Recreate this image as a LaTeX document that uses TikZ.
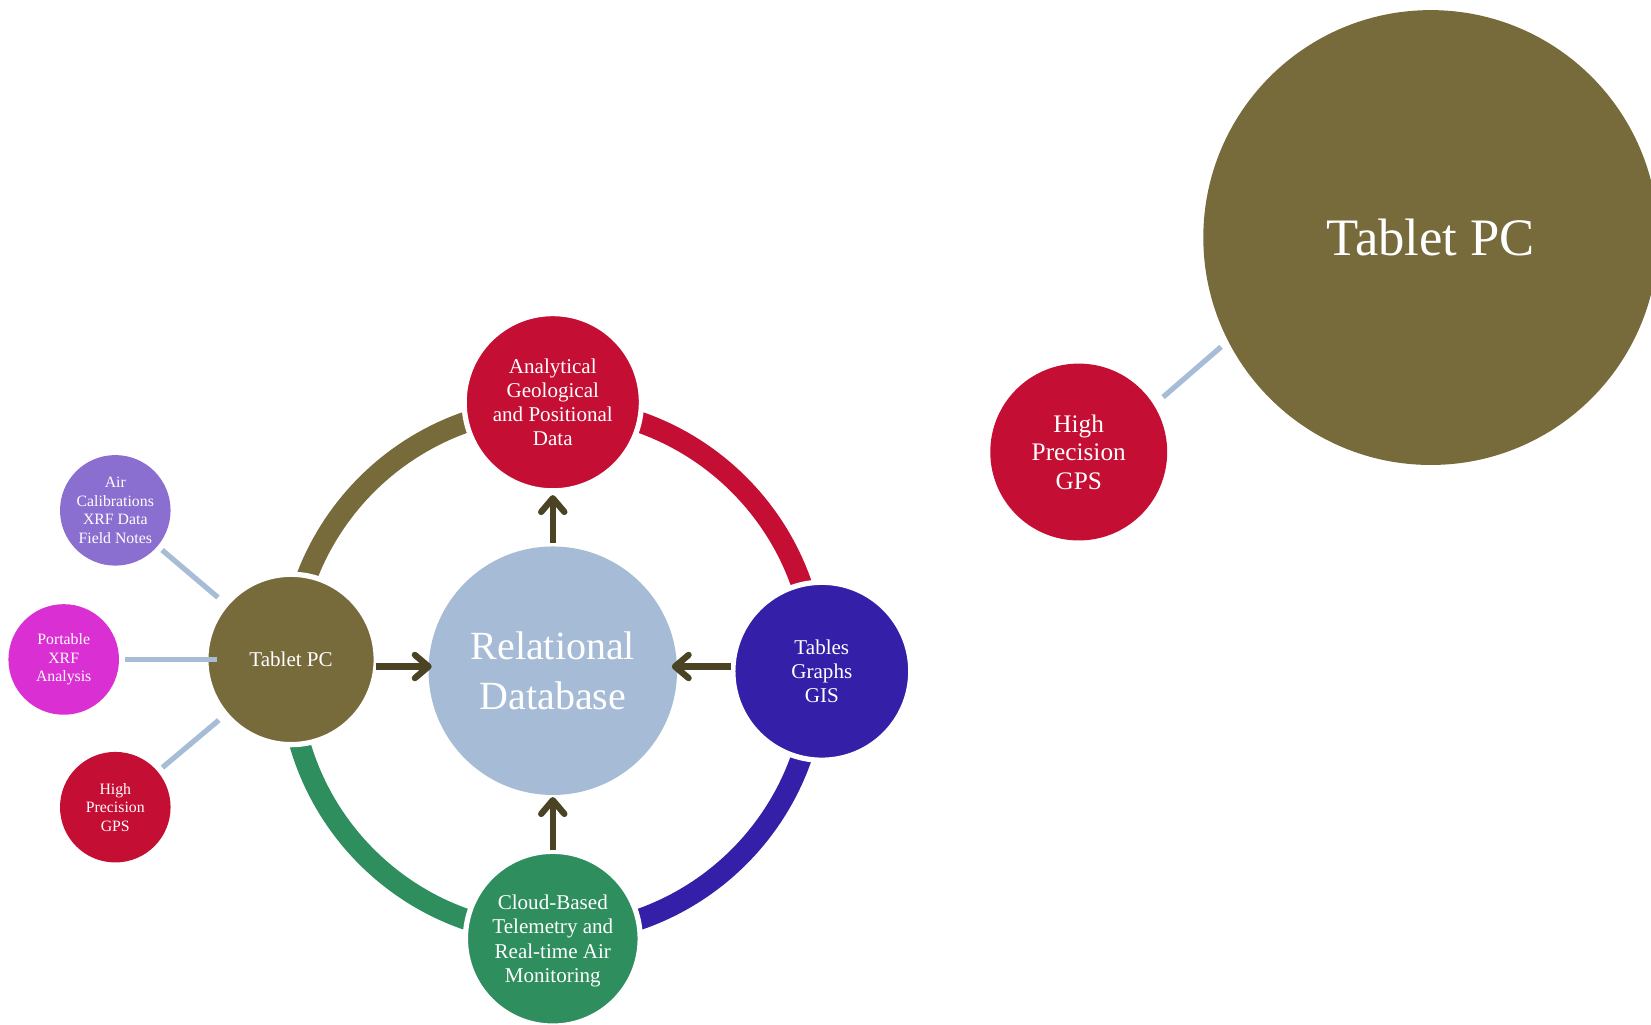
\documentclass[tikz,border=0pt]{standalone}
\usepackage{fontspec}
\setmainfont{Liberation Serif}
\usetikzlibrary{arrows.meta}
\definecolor{cOlive}{HTML}{776B3C}
\definecolor{cRed}{HTML}{C50E33}
\definecolor{cBlue}{HTML}{3420A8}
\definecolor{cGreen}{HTML}{2E8E5E}
\definecolor{cDB}{HTML}{A6BBD5}
\definecolor{cPurple}{HTML}{8B6FD0}
\definecolor{cMagenta}{HTML}{DA2FD2}
\definecolor{cArrow}{HTML}{4A4424}
\definecolor{cConn}{HTML}{A7BDD6}
\begin{document}
\begin{tikzpicture}[x=1pt,y=1pt,
  bub/.style={circle, inner sep=0pt, outer sep=0pt, text=white, align=center},
  wbord/.style={draw=white, line width=5pt},
  fbig/.style={font=\fontsize{38}{47}\selectfont},
  fmid/.style={font=\fontsize{20}{23}\selectfont},
  fsmall/.style={font=\fontsize{15}{17.5}\selectfont},
  ringarc/.style={line width=20pt},
  arr/.style={draw=cArrow, line width=6pt, -{Straight Barb[length=13pt,width=22pt,round]}},
  conn/.style={draw=cConn, line width=5pt},
]
\useasboundingbox (0,0) rectangle (1568,-973);

% central database
\node[bub, fill=cDB, minimum size=236pt, fbig] (db) at (525,-637) {Relational\\Database};

% ring
\draw[ringarc, draw=cOlive] ([shift={(180:250)}]db.center) arc[start angle=180, end angle=90, radius=250];
\draw[ringarc, draw=cRed]   ([shift={(90:250)}]db.center) arc[start angle=90, end angle=0, radius=250];
\draw[ringarc, draw=cBlue]  ([shift={(0:250)}]db.center) arc[start angle=0, end angle=-90, radius=250];
\draw[ringarc, draw=cGreen] ([shift={(-90:250)}]db.center) arc[start angle=-90, end angle=-180, radius=250];

% cycle nodes
\node[bub, wbord, fill=cRed, minimum size=168.4pt, fmid] (ana) at (525,-382) {Analytical\\Geological\\and Positional\\Data};
\node[bub, wbord, fill=cBlue, minimum size=169pt, fmid] (tgg) at (780.5,-637.5) {Tables\\Graphs\\GIS};
\node[bub, wbord, fill=cGreen, minimum size=166pt, fmid, text depth=0pt] (cloud) at (525,-891.5) {Cloud-Based\\Telemetry and\\Real-time Air\\Monitoring};
\node[bub, wbord, fill=cOlive, minimum size=161.8pt, fmid] (tabl) at (276.4,-626.3) {Tablet PC};

% satellites
\node[bub, fill=cPurple, minimum size=105pt, fsmall] (air) at (109.5,-484.7) {Air\\Calibrations\\XRF Data\\Field Notes};
\node[bub, fill=cMagenta, minimum size=105pt, fsmall] (xrf) at (60.5,-626.3) {Portable\\XRF\\Analysis};
\node[bub, fill=cRed, minimum size=105pt, fsmall] (gps) at (109.5,-766.6) {High\\Precision\\GPS};

% satellite connectors
\draw[conn, shorten <=5.8pt, shorten >=10.1pt] (air) -- (tabl);
\draw[conn, shorten <=5.7pt, shorten >=-10.9pt] (xrf) -- (tabl);
\draw[conn, shorten <=6pt, shorten >=8.7pt] (gps) -- (tabl);

% arrows
\coordinate (ay) at (0,-633);
\draw[arr, shorten <=3pt, shorten >=4pt] (db) -- (ana);
\draw[arr, shorten <=1pt, shorten >=2pt] (cloud) -- (db);
\draw[arr, shorten >=-3pt] (tabl.east |- ay) -- (db.west |- ay);
\draw[arr, shorten <=1.7pt, shorten >=-5pt] (tgg.west |- ay) -- (db.east |- ay);

% right-hand group
\node[bub, fill=cOlive, minimum size=432pt, font=\fontsize{50}{60}\selectfont] (tab2) at (1358.8,-225.6) {Tablet PC};
\node[bub, fill=cRed, minimum size=168pt, font=\fontsize{24}{27}\selectfont] (gps2) at (1024.5,-429.3) {High\\Precision\\GPS};
\draw[conn, shorten <=11.7pt, shorten >=8.8pt] (gps2.32.9) -- (tab2.207.6);
\end{tikzpicture}
\end{document}
